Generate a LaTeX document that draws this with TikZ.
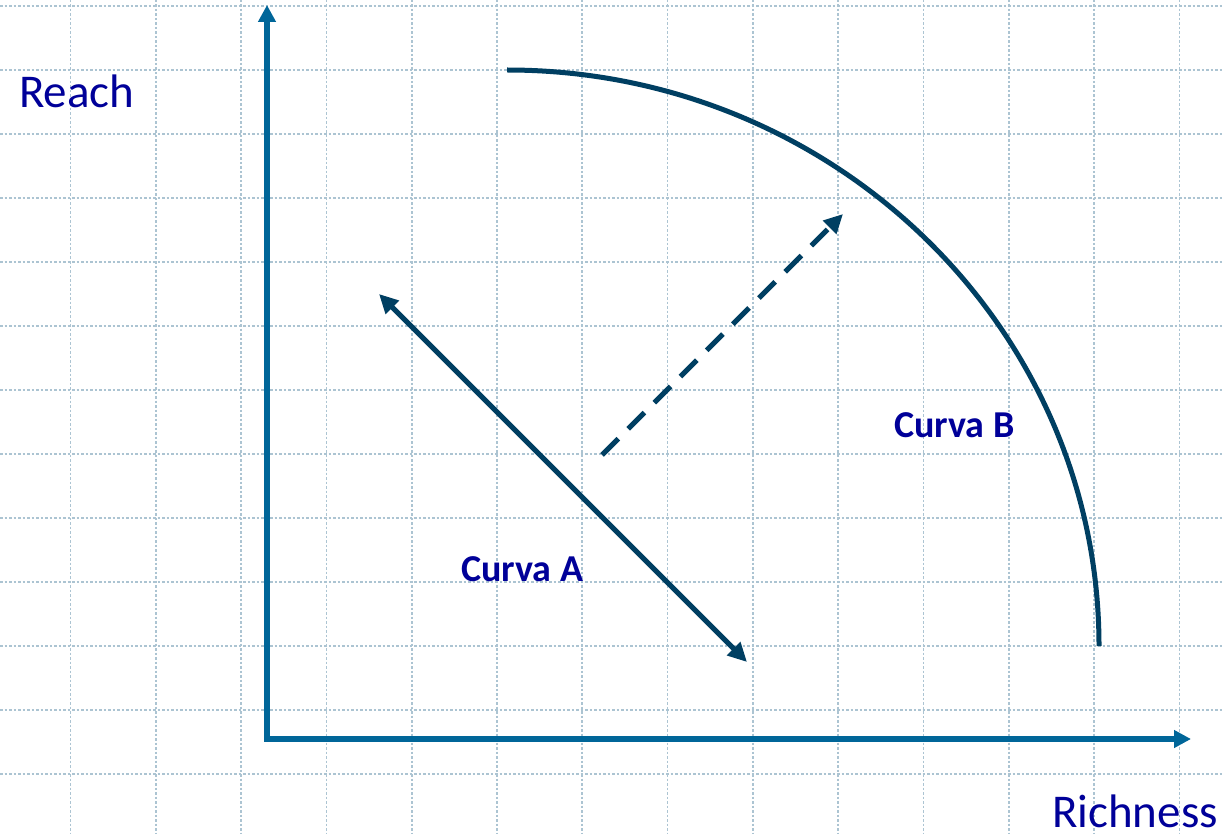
\documentclass[tikz,border=0pt]{standalone}
\usepackage{fontspec}
\setmainfont{Carlito}
\usetikzlibrary{arrows.meta}
\definecolor{gridc}{RGB}{172,196,210}
\definecolor{axisc}{RGB}{0,102,153}
\definecolor{curvec}{RGB}{0,63,98}
\definecolor{textc}{RGB}{0,0,153}
\tikzset{
  gridline/.style={gridc, line width=1.7pt, dash pattern=on 2.5pt off 2pt},
  axisline/.style={axisc, line width=5.2pt, -{Triangle[length=17pt,width=17pt]}},
  curveline/.style={curvec, line width=5pt},
  axislabel/.style={textc, font=\fontsize{47}{50}\selectfont, inner sep=0pt},
  curvelabel/.style={textc, font=\fontsize{38}{42}\selectfont\bfseries, inner sep=0pt},
}
\begin{document}
\begin{tikzpicture}[x=1pt,y=-1pt]
\useasboundingbox (0,0) rectangle (1222,834);
\fill[white] (0,0) rectangle (1222,834);
% grid
\foreach \k in {0,...,13} {
  \draw[gridline] ({70.5+85.3*\k},0) -- ({70.5+85.3*\k},834);
}
\foreach \k in {0,...,12} {
  \draw[gridline] (0,{6+64*\k}) -- (1222,{6+64*\k});
}
% axes
\coordinate (O) at (267,739);
\coordinate (ytip) at (267,5);
\coordinate (xtip) at (1191,739);
\draw[axisline] ([yshift=-2.6pt]O) -- (ytip);
\draw[axisline] ([xshift=-2.6pt]O) -- (xtip);
% curve A
\coordinate (a1) at (747,662);
\coordinate (a2) at (379,294);
\draw[curveline, {Triangle[length=19pt,width=18pt]}-{Triangle[length=19pt,width=18pt]}] (a2) -- (a1);
% dashed arrow
\coordinate (d1) at (602,455);
\coordinate (d2) at (843,214);
\draw[curveline, dash pattern=on 23pt off 14pt, -{Triangle[length=19pt,width=18pt]}] (d1) -- (d2);
% curve B
\coordinate (b1) at (507,70);
\draw[curveline] (b1) arc[start angle=-90, end angle=0, x radius=592, y radius=576];
% labels
\node[axislabel, anchor=base west] (reach) at (19,108) {Reach};
\node[axislabel, anchor=base east] (rich) at (1218,827) {Richness};
\node[curvelabel, anchor=base west] (ca) at (461,581) {Curva A};
\node[curvelabel, anchor=base west] (cb) at (894,437) {Curva B};
\end{tikzpicture}
\end{document}
